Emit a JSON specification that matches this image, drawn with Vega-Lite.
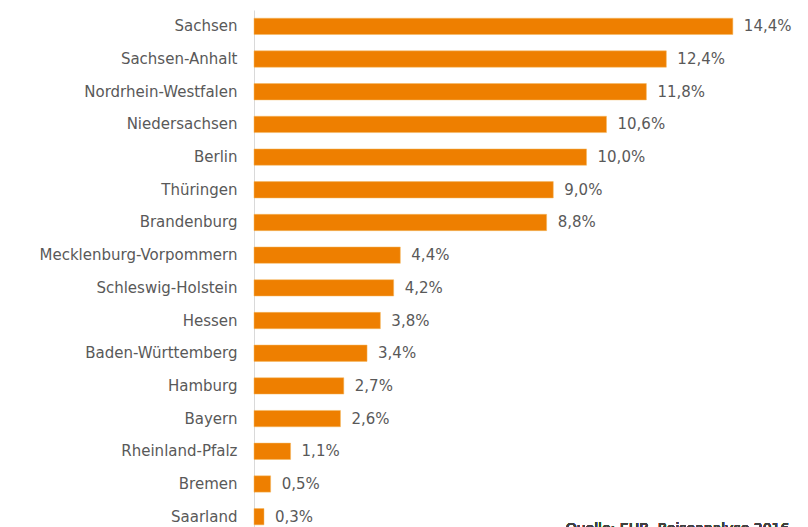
{
  "$schema": "https://vega.github.io/schema/vega-lite/v6.json",
  "autosize": "none",
  "width": 554,
  "height": 523,
  "padding": {"left": 254, "top": 10, "right": 0, "bottom": 0},
  "background": "white",
  "config": {"view": {"stroke": null}, "font": "DejaVu Sans"},
  "data": {"values": [
    {"land": "Sachsen", "wert": 14.4, "label": "14,4%"},
    {"land": "Sachsen-Anhalt", "wert": 12.4, "label": "12,4%"},
    {"land": "Nordrhein-Westfalen", "wert": 11.8, "label": "11,8%"},
    {"land": "Niedersachsen", "wert": 10.6, "label": "10,6%"},
    {"land": "Berlin", "wert": 10.0, "label": "10,0%"},
    {"land": "Thüringen", "wert": 9.0, "label": "9,0%"},
    {"land": "Brandenburg", "wert": 8.8, "label": "8,8%"},
    {"land": "Mecklenburg-Vorpommern", "wert": 4.4, "label": "4,4%"},
    {"land": "Schleswig-Holstein", "wert": 4.2, "label": "4,2%"},
    {"land": "Hessen", "wert": 3.8, "label": "3,8%"},
    {"land": "Baden-Württemberg", "wert": 3.4, "label": "3,4%"},
    {"land": "Hamburg", "wert": 2.7, "label": "2,7%"},
    {"land": "Bayern", "wert": 2.6, "label": "2,6%"},
    {"land": "Rheinland-Pfalz", "wert": 1.1, "label": "1,1%"},
    {"land": "Bremen", "wert": 0.5, "label": "0,5%"},
    {"land": "Saarland", "wert": 0.3, "label": "0,3%"}
  ]},
  "encoding": {
    "y": {"field": "land", "type": "nominal", "sort": null,
      "scale": {"paddingInner": 0.5, "paddingOuter": 0.25},
      "axis": {"title": null, "ticks": false, "domainColor": "#d9d9d9", "domainWidth": 1,
        "labelFontSize": 15, "labelColor": "#595959", "labelPadding": 17, "labelLimit": 300, "labelFont": "DejaVu Sans"}},
    "x": {"field": "wert", "type": "quantitative",
      "scale": {"domain": [0, 16.66], "nice": false},
      "axis": null}
  },
  "layer": [
    {"mark": {"type": "bar", "color": "#ee7f00", "stroke": "#f5b860", "strokeWidth": 0.5}},
    {"mark": {"type": "text", "align": "left", "dx": 11, "fontSize": 15, "color": "#595959", "font": "DejaVu Sans"},
      "encoding": {"text": {"field": "label"}}},
    {"mark": {"type": "text", "align": "right", "baseline": "middle", "dy": 12, "fontSize": 14, "color": "#404040", "font": "DejaVu Sans"},
      "encoding": {"x": {"datum": 16.1}, "y": {"datum": "Saarland"}, "text": {"value": "Quelle: EHB, Reiseanalyse 2016"}}}
  ]
}
